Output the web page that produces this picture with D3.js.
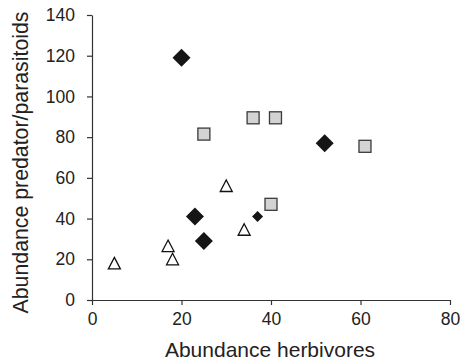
<!DOCTYPE html>
<html>
<head>
<meta charset="utf-8">
<script src="https://d3js.org/d3.v7.min.js"></script>
<style>
  body { margin: 0; background: #fff; }
  text { font-family: "Liberation Sans", Arial, sans-serif; fill: #222; }
</style>
</head>
<body>
<div id="chart"></div>
<script>
// herbivores (x) vs predator/parasitoids (y), one list per marker type
const bigDiamondX = [20, 23, 25, 52];
const bigDiamondY = [119, 41, 29, 77];
const smallDiamondX = [37];
const smallDiamondY = [41];
const squareX = [25, 36, 41, 40, 61];
const squareY = [81.5, 89.5, 89.5, 47, 75.5];
const triangleX = [5, 17, 18, 30, 34];
const triangleY = [18, 26.5, 20, 56, 34.5];
const xTicks = [0, 20, 40, 60, 80];
const yTicks = [0, 20, 40, 60, 80, 100, 120, 140];

const width = 461, height = 362;
const margin = {top: 15, right: 11, bottom: 62, left: 92};

const svg = d3.select("#chart")
  .append("svg")
    .attr("width", width)
    .attr("height", height);

const x = d3.scaleLinear()
  .domain([0, 80])
  .range([margin.left, width - margin.right]);

const y = d3.scaleLinear()
  .domain([0, 140])
  .range([height - margin.bottom, margin.top]);

// axes
const xAxis = svg.append("g")
  .attr("transform", `translate(0, ${y(0)})`)
  .call(d3.axisBottom(x).tickValues(xTicks).tickSize(5).tickPadding(8).tickSizeOuter(0));
xAxis.selectAll("text").style("font-size", "17.5px");

const yAxis = svg.append("g")
  .attr("transform", `translate(${x(0)}, 0)`)
  .call(d3.axisLeft(y).tickValues(yTicks).tickSize(5).tickPadding(12).tickSizeOuter(0));
yAxis.selectAll("text").style("font-size", "17.5px");

svg.selectAll(".domain, .tick line")
  .attr("stroke", "#333")
  .attr("stroke-width", 1.2);

// axis titles
svg.append("text")
  .attr("x", 270)
  .attr("y", 357)
  .attr("text-anchor", "middle")
  .style("font-size", "21px")
  .text("Abundance herbivores");

svg.append("text")
  .attr("transform", "translate(27.5, 162.5) rotate(-90)")
  .attr("text-anchor", "middle")
  .style("font-size", "21.3px")
  .text("Abundance predator/parasitoids");

// squares
svg.selectAll("rect.sq")
  .data(squareX.map((v, i) => [v, squareY[i]]))
  .join("rect")
    .attr("class", "sq")
    .attr("x", d => x(d[0]) - 6)
    .attr("y", d => y(d[1]) - 6)
    .attr("width", 12)
    .attr("height", 12)
    .attr("fill", "#d3d3d3")
    .attr("stroke", "#3a3a3a")
    .attr("stroke-width", 1.3);

// triangles
svg.selectAll("path.tri")
  .data(triangleX.map((v, i) => [v, triangleY[i]]))
  .join("path")
    .attr("class", "tri")
    .attr("d", d => {
      const cx = x(d[0]), cy = y(d[1]);
      return `M${cx},${cy - 6}L${cx + 6},${cy + 5.5}L${cx - 6},${cy + 5.5}Z`;
    })
    .attr("fill", "#fff")
    .attr("stroke", "#111")
    .attr("stroke-width", 1.3);

// diamonds
function diamond(r) {
  return d => {
    const cx = x(d[0]), cy = y(d[1]);
    return `M${cx},${cy - r}L${cx + r},${cy}L${cx},${cy + r}L${cx - r},${cy}Z`;
  };
}

svg.selectAll("path.bigd")
  .data(bigDiamondX.map((v, i) => [v, bigDiamondY[i]]))
  .join("path")
    .attr("class", "bigd")
    .attr("d", diamond(9))
    .attr("fill", "#151515");

svg.selectAll("path.smalld")
  .data(smallDiamondX.map((v, i) => [v, smallDiamondY[i]]))
  .join("path")
    .attr("class", "smalld")
    .attr("d", diamond(5.5))
    .attr("fill", "#151515");
</script>
</body>
</html>
